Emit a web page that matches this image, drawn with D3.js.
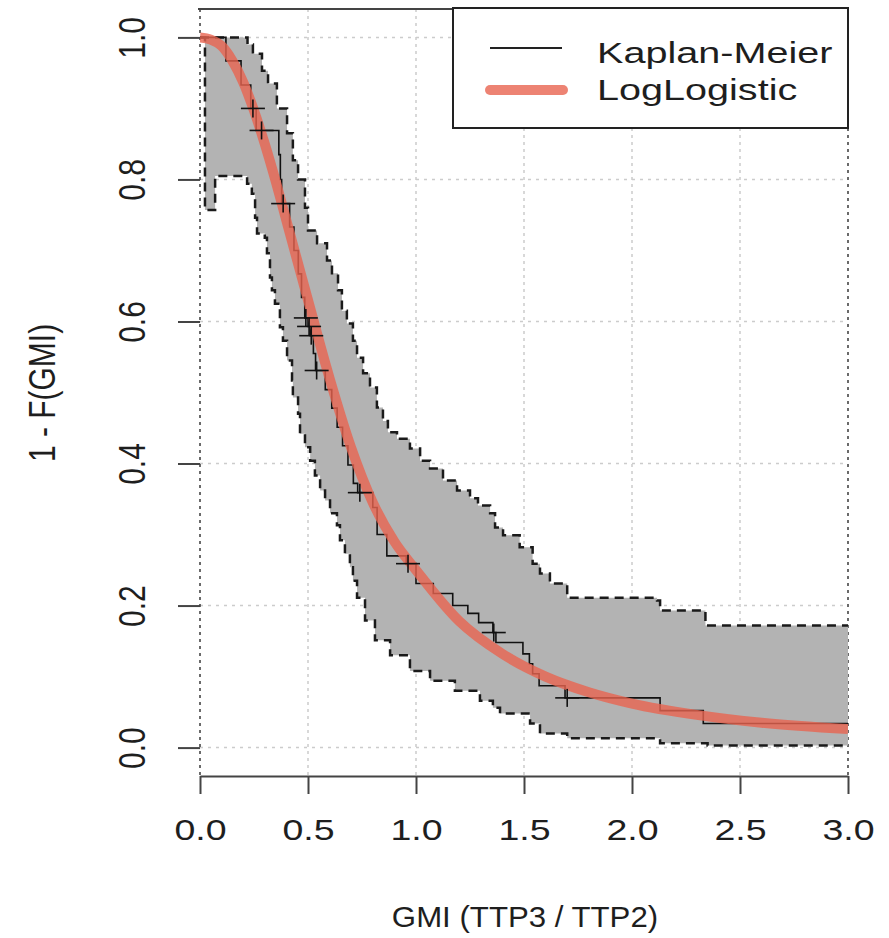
<!DOCTYPE html>
<html>
<head>
<meta charset="utf-8">
<title>GMI survival</title>
<script src="https://cdn.jsdelivr.net/npm/d3@7"></script>
<style>
  body { margin: 0; background: #fff; }
  text { font-family: "Liberation Sans", Arial, sans-serif; fill: #1e1e1e; }
</style>
</head>
<body>
<div id="chart"></div>
<script>
let w = 889;
let h = 938;
const sx = 1.25; // text in the reference is stretched sideways

const xTicks = [0, 0.5, 1, 1.5, 2, 2.5, 3];
const yTicks = [0, 0.2, 0.4, 0.6, 0.8, 1];

// Kaplan-Meier steps (time, survival after the step)
const kmTime = [0, 0.12, 0.19, 0.235, 0.26, 0.365, 0.372, 0.378, 0.415, 0.435, 0.455, 0.47, 0.485, 0.5, 0.51, 0.525, 0.535,
  0.58, 0.61, 0.635, 0.66, 0.685, 0.71, 0.73, 0.8, 0.82, 0.865, 0.955, 1.0, 1.08, 1.17, 1.24, 1.29, 1.356, 1.37,
  1.495, 1.525, 1.54, 1.57, 1.69, 2.13, 2.33];
const kmSurv = [1.0, 0.967, 0.933, 0.9, 0.869, 0.835, 0.8, 0.766, 0.733, 0.7, 0.667, 0.634, 0.605, 0.593, 0.58, 0.555, 0.531,
  0.504, 0.478, 0.451, 0.425, 0.398, 0.372, 0.359, 0.338, 0.3, 0.27, 0.259, 0.231, 0.217, 0.2, 0.189, 0.176, 0.162, 0.148,
  0.132, 0.118, 0.104, 0.087, 0.07, 0.052, 0.034];

// censored observations
const censorTime = [0.245, 0.285, 0.385, 0.49, 0.505, 0.515, 0.54, 0.74, 0.963, 1.36, 1.7];
const censorSurv = [0.9, 0.869, 0.766, 0.605, 0.593, 0.58, 0.531, 0.359, 0.259, 0.162, 0.07];

// confidence band
const upperTime = [0, 0.22, 0.245, 0.287, 0.315, 0.356, 0.403, 0.43, 0.454, 0.486, 0.5, 0.542, 0.588, 0.611, 0.639, 0.657,
  0.68, 0.708, 0.727, 0.755, 0.787, 0.819, 0.847, 0.87, 0.912, 0.972, 1.019, 1.065, 1.125, 1.19, 1.25, 1.287, 1.343, 1.366,
  1.403, 1.48, 1.54, 1.574, 1.62, 1.7, 2.116, 2.13, 2.34];
const upperSurv = [1.0, 0.99, 0.977, 0.953, 0.935, 0.9, 0.865, 0.827, 0.8, 0.76, 0.728, 0.71, 0.686, 0.668, 0.644, 0.615,
  0.597, 0.573, 0.549, 0.527, 0.507, 0.479, 0.46, 0.444, 0.435, 0.421, 0.404, 0.393, 0.376, 0.362, 0.351, 0.341, 0.33, 0.31,
  0.299, 0.282, 0.259, 0.245, 0.231, 0.211, 0.207, 0.193, 0.172];
const lowerTime = [0, 0.023, 0.07, 0.218, 0.24, 0.255, 0.264, 0.3, 0.31, 0.324, 0.333, 0.347, 0.37, 0.384, 0.403, 0.426,
  0.43, 0.454, 0.463, 0.486, 0.51, 0.532, 0.556, 0.579, 0.602, 0.634, 0.648, 0.671, 0.694, 0.708, 0.727, 0.764, 0.81, 0.88,
  0.972, 1.065, 1.18, 1.296, 1.356, 1.389, 1.528, 1.574, 1.7, 2.13, 2.35];
const lowerSurv = [1.0, 0.757, 0.805, 0.794, 0.78, 0.746, 0.724, 0.718, 0.696, 0.662, 0.644, 0.625, 0.592, 0.573, 0.545, 0.517,
  0.493, 0.47, 0.442, 0.423, 0.404, 0.383, 0.362, 0.348, 0.33, 0.313, 0.292, 0.273, 0.254, 0.235, 0.211, 0.179, 0.151, 0.13,
  0.108, 0.094, 0.08, 0.066, 0.056, 0.048, 0.034, 0.02, 0.013, 0.006, 0.003];

// fitted log-logistic curve
const llTime = [0, 0.05, 0.1, 0.15, 0.2, 0.25, 0.3, 0.35, 0.4, 0.45, 0.5, 0.6, 0.7, 0.8, 0.9, 1.0, 1.2, 1.4, 1.6, 1.8, 2.0, 2.3, 2.6, 3.0];
const llSurv = [1.0, 0.997, 0.988, 0.967, 0.937, 0.897, 0.85, 0.798, 0.742, 0.686, 0.63, 0.52, 0.422, 0.345, 0.29, 0.25, 0.178,
  0.132, 0.1, 0.078, 0.062, 0.046, 0.035, 0.026];

const legendLabels = ["Kaplan-Meier", "LogLogistic"];

let xScale = d3.scaleLinear().domain([0, 3]).range([200, 848]);
let yScale = d3.scaleLinear().domain([-0.04, 1.04]).range([776, 9]);

let svg = d3.select("#chart")
  .append("svg")
  .attr("width", w)
  .attr("height", h);

svg.append("defs").append("clipPath").attr("id", "plot")
  .append("rect")
  .attr("x", xScale(0)).attr("y", yScale(1.04))
  .attr("width", xScale(3) - xScale(0)).attr("height", yScale(-0.04) - yScale(1.04));

// grid
svg.selectAll(".hgrid")
  .data(yTicks)
  .enter()
  .append("line")
  .attr("x1", xScale(0)).attr("x2", xScale(3))
  .attr("y1", d => yScale(d)).attr("y2", d => yScale(d))
  .attr("stroke", "#cccccc").attr("stroke-width", 1.5).attr("stroke-dasharray", "3,5");

svg.selectAll(".vgrid")
  .data(xTicks)
  .enter()
  .append("line")
  .attr("x1", d => xScale(d)).attr("x2", d => xScale(d))
  .attr("y1", yScale(1.04)).attr("y2", yScale(-0.04))
  .attr("stroke", d => (d === 0 || d === 3) ? "#3a3a3a" : "#cccccc")
  .attr("stroke-width", 1.5)
  .attr("stroke-dasharray", "3,4");

// top edge
svg.append("line")
  .attr("x1", xScale(0) - 2).attr("x2", xScale(3))
  .attr("y1", yScale(1.04)).attr("y2", yScale(1.04))
  .attr("stroke", "#444").attr("stroke-width", 2);

function steps(ts, vs) {
  let pts = ts.map((t, i) => [t, vs[i]]);
  pts.push([3, vs[vs.length - 1]]);
  return pts;
}
function valueAt(ts, vs, t) {
  let i = d3.bisectRight(ts, t) - 1;
  return vs[Math.max(i, 0)];
}

let g = svg.append("g").attr("clip-path", "url(#plot)");

// shaded band between the limits
let bandTimes = Array.from(new Set(upperTime.concat(lowerTime, [3]))).sort((a, b) => a - b);
let band = d3.area()
  .x(d => xScale(d))
  .y0(d => yScale(valueAt(lowerTime, lowerSurv, d)))
  .y1(d => yScale(valueAt(upperTime, upperSurv, d)))
  .curve(d3.curveStepAfter);
g.append("path")
  .datum(bandTimes)
  .attr("d", band)
  .attr("fill", "#b3b3b3");

let stepLine = d3.line()
  .x(d => xScale(d[0]))
  .y(d => yScale(d[1]))
  .curve(d3.curveStepAfter);

[[upperTime, upperSurv], [lowerTime, lowerSurv]].forEach(function(s) {
  g.append("path")
    .datum(steps(s[0], s[1]))
    .attr("d", stepLine)
    .attr("fill", "none")
    .attr("stroke", "#1a1a1a")
    .attr("stroke-width", 2.5)
    .attr("stroke-dasharray", "9,6");
});

g.append("path")
  .datum(steps(kmTime, kmSurv))
  .attr("d", stepLine)
  .attr("fill", "none")
  .attr("stroke", "#111")
  .attr("stroke-width", 1.6);

let smooth = d3.line()
  .x(d => xScale(d[0]))
  .y(d => yScale(d[1]))
  .curve(d3.curveMonotoneX);
g.append("path")
  .datum(llTime.map((t, i) => [t, llSurv[i]]))
  .attr("d", smooth)
  .attr("fill", "none")
  .attr("stroke", "rgba(232,100,80,0.8)")
  .attr("stroke-width", 10);

// censor marks
let marks = svg.selectAll(".censor")
  .data(censorTime.map((t, i) => [t, censorSurv[i]]))
  .enter()
  .append("g")
  .attr("transform", d => "translate(" + xScale(d[0]) + "," + yScale(d[1]) + ")");
marks.append("line").attr("x1", -12).attr("x2", 12).attr("y1", 0).attr("y2", 0)
  .attr("stroke", "#111").attr("stroke-width", 1.6);
marks.append("line").attr("x1", 0).attr("x2", 0).attr("y1", -9).attr("y2", 9)
  .attr("stroke", "#111").attr("stroke-width", 1.6);

// x axis
let xAxis = svg.append("g")
  .attr("transform", "translate(0," + yScale(-0.04) + ")")
  .call(d3.axisBottom(xScale).tickValues(xTicks).tickFormat(d3.format(".1f")).tickSize(18).tickSizeOuter(0));
xAxis.select(".domain").attr("stroke", "#444").attr("stroke-width", 2);
xAxis.selectAll(".tick line").attr("stroke", "#444").attr("stroke-width", 2);
xAxis.selectAll(".tick text")
  .attr("y", 0).attr("dy", null)
  .attr("transform", "translate(0,64) scale(" + sx + ",1)")
  .attr("font-size", 30)
  .attr("font-family", null)
  .attr("fill", "#1e1e1e");

// y axis, ticks only
let yAxis = svg.append("g")
  .attr("transform", "translate(" + xScale(0) + ",0)")
  .call(d3.axisLeft(yScale).tickValues(yTicks).tickFormat(d3.format(".1f")).tickSize(22));
yAxis.select(".domain").remove();
yAxis.selectAll(".tick line").attr("stroke", "#444").attr("stroke-width", 2);
yAxis.selectAll(".tick text")
  .attr("x", 0).attr("dy", null)
  .attr("text-anchor", "middle")
  .attr("transform", "translate(-55,0) scale(" + sx + ",1) rotate(-90)")
  .attr("font-size", 30)
  .attr("font-family", null)
  .attr("fill", "#1e1e1e");

// axis titles
svg.append("text")
  .attr("transform", "translate(55,393) scale(" + sx + ",1) rotate(-90)")
  .attr("text-anchor", "middle")
  .attr("font-size", 30)
  .text("1 - F(GMI)");

svg.append("text")
  .attr("transform", "translate(525,927) scale(1.04,1)")
  .attr("text-anchor", "middle")
  .attr("font-size", 30)
  .text("GMI (TTP3 / TTP2)");

// legend
let legend = svg.append("g");
legend.append("rect")
  .attr("x", 453).attr("y", 8)
  .attr("width", 848 - 453).attr("height", 120)
  .attr("fill", "#fff").attr("stroke", "#222").attr("stroke-width", 2);
legend.append("line")
  .attr("x1", 490).attr("x2", 562).attr("y1", 48).attr("y2", 48)
  .attr("stroke", "#222").attr("stroke-width", 2);
legend.append("line")
  .attr("x1", 490).attr("x2", 563).attr("y1", 90).attr("y2", 90)
  .attr("stroke", "rgba(232,100,80,0.8)").attr("stroke-width", 10).attr("stroke-linecap", "round");
legend.selectAll(".lab")
  .data(legendLabels)
  .enter()
  .append("text")
  .attr("transform", (d, i) => "translate(597," + (63 + i * 37) + ") scale(1.32,1)")
  .attr("font-size", 30)
  .text(d => d);
</script>
</body>
</html>
